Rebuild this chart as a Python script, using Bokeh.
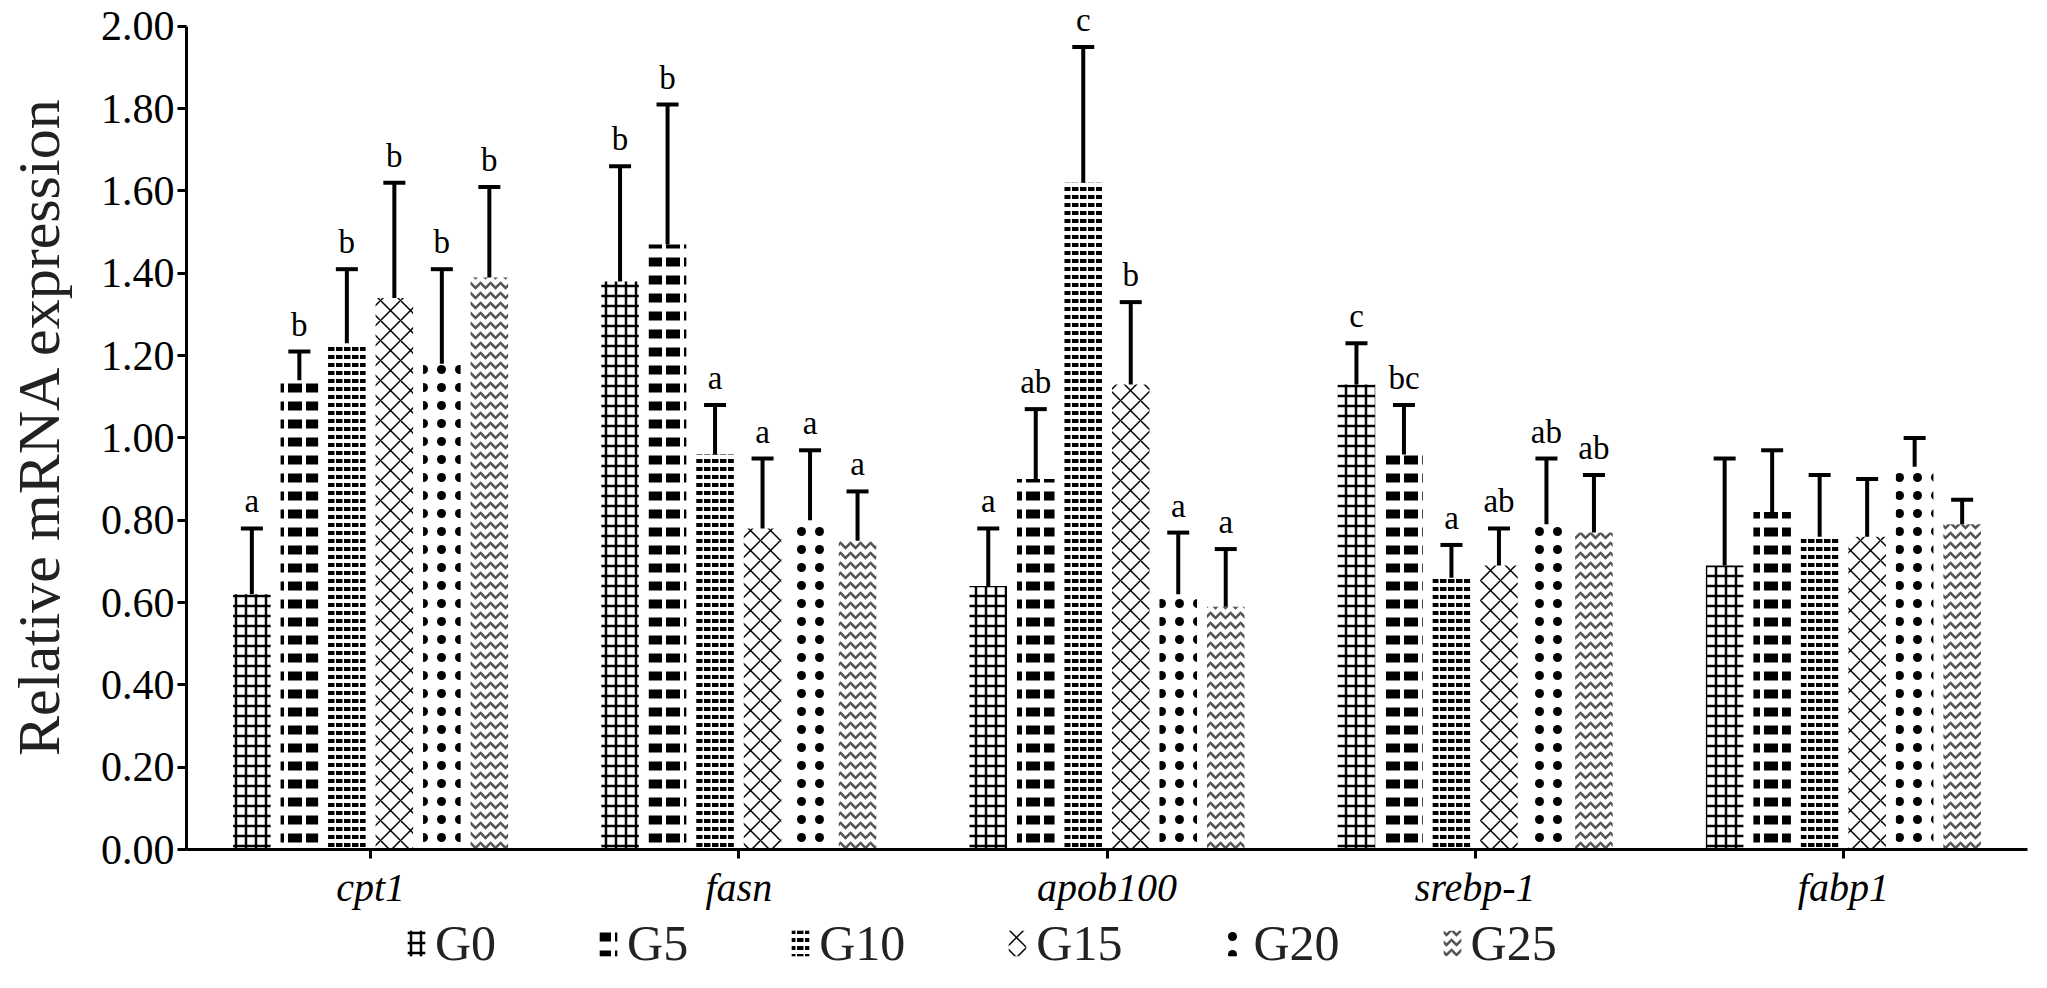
from bokeh.plotting import figure
from bokeh.layouts import column
from bokeh.models import (ColumnDataSource, FactorRange, Range1d, FixedTicker, PrintfTickFormatter,
                          Whisker, TeeHead, Legend, LegendItem)
from bokeh.transform import dodge
from bokeh.core.properties import value
from bokeh.embed import file_html
from bokeh.resources import INLINE

genes = ["cpt1", "fasn", "apob100", "srebp-1", "fabp1"]
groups = ["G0", "G5", "G10", "G15", "G20", "G25"]

G0 = [0.62, 1.38, 0.64, 1.13, 0.69]
G5 = [1.14, 1.47, 0.90, 0.96, 0.82]
G10 = [1.23, 0.96, 1.62, 0.66, 0.76]
G15 = [1.34, 0.78, 1.13, 0.69, 0.76]
G20 = [1.18, 0.80, 0.62, 0.79, 0.93]
G25 = [1.39, 0.75, 0.59, 0.77, 0.79]

G0_se = [0.16, 0.28, 0.14, 0.10, 0.26]
G5_se = [0.07, 0.34, 0.17, 0.12, 0.15]
G10_se = [0.18, 0.12, 0.33, 0.08, 0.15]
G15_se = [0.28, 0.17, 0.20, 0.09, 0.14]
G20_se = [0.23, 0.17, 0.15, 0.16, 0.07]
G25_se = [0.22, 0.12, 0.14, 0.14, 0.06]

G0_sig = ["a", "b", "a", "c", ""]
G5_sig = ["b", "b", "ab", "bc", ""]
G10_sig = ["b", "a", "c", "a", ""]
G15_sig = ["b", "a", "b", "ab", ""]
G20_sig = ["b", "a", "a", "ab", ""]
G25_sig = ["b", "a", "a", "ab", ""]

y_ticks = [0.0, 0.2, 0.4, 0.6, 0.8, 1.0, 1.2, 1.4, 1.6, 1.8, 2.0]

means = [G0, G5, G10, G15, G20, G25]
ses = [G0_se, G5_se, G10_se, G15_se, G20_se, G25_se]
sigs = [G0_sig, G5_sig, G10_sig, G15_sig, G20_sig, G25_sig]

data = {"gene": genes}
for g, m, s, l in zip(groups, means, ses, sigs):
    data[g] = m
    data[g + "_hi"] = [a + b for a, b in zip(m, s)]
    data[g + "_lo"] = [a - b for a, b in zip(m, s)]
    data[g + "_sig"] = l
source = ColumnDataSource(data)

SERIF = "Liberation Serif"

# frame spans 2.058 units so the axis (bounded at 2.00) sits just below the top,
# leaving room inside the frame for the letters over the tallest bars
p = figure(width=2031, height=912, x_range=FactorRange(*genes, range_padding=0.0),
           y_range=Range1d(0, 2.058), output_backend="svg", toolbar_location=None,
           min_border_left=186, min_border_right=4, min_border_top=2, min_border_bottom=61)
p.outline_line_color = None
p.grid.grid_line_color = None
p.background_fill_color = "white"

hatches = [
    dict(hatch_pattern="cross", hatch_scale=10, hatch_weight=2.5, hatch_color="black"),
    dict(hatch_pattern="horizontal_dash", hatch_scale=18, hatch_weight=9, hatch_color="black"),
    dict(hatch_pattern="horizontal_dash", hatch_scale=8, hatch_weight=4, hatch_color="black"),
    dict(hatch_pattern="diagonal_cross", hatch_scale=20, hatch_weight=1.5, hatch_color="black"),
    dict(hatch_pattern="dot", hatch_scale=18, hatch_weight=2, hatch_color="black"),
    dict(hatch_pattern="horizontal_wave", hatch_scale=10, hatch_weight=2.5, hatch_color="#555555"),
]

pitch = 0.129
bw = 0.102
for i, g in enumerate(groups):
    off = (i - 2.5) * pitch
    p.vbar(x=dodge("gene", off, range=p.x_range), top=g, width=bw, bottom=0, source=source,
           fill_color="white", line_color=None, **hatches[i])
    w = Whisker(base=dodge("gene", off, range=p.x_range), upper=g + "_hi", lower=g + "_lo",
                source=source, dimension="height", line_width=4, line_color="black",
                upper_head=TeeHead(size=22, line_width=4, line_color="black"),
                lower_head=TeeHead(size=22, line_width=4, line_color="black"))
    p.add_layout(w)
    p.text(x=dodge("gene", off, range=p.x_range), y=g + "_hi", text=g + "_sig", source=source,
           text_font=value(SERIF), text_font_size="33px", text_align="center",
           text_baseline="bottom", y_offset=-9, text_color="black")

# axes
p.yaxis.ticker = FixedTicker(ticks=y_ticks)
p.yaxis.bounds = (0, 2.0)
p.yaxis.formatter = PrintfTickFormatter(format="%.2f")
p.yaxis.axis_label = "Relative mRNA expression"
p.yaxis.axis_label_text_font = SERIF
p.yaxis.axis_label_text_font_style = "normal"
p.yaxis.axis_label_text_font_size = "60px"
p.yaxis.axis_label_text_color = "#222222"
p.yaxis.axis_label_standoff = 26
p.yaxis.major_label_text_font = SERIF
p.yaxis.major_label_text_font_size = "42px"
p.yaxis.major_label_text_color = "black"
p.yaxis.major_tick_out = 9
p.yaxis.major_tick_in = 0
p.yaxis.minor_tick_line_color = None
p.yaxis.axis_line_width = 3
p.yaxis.major_tick_line_width = 3
p.yaxis.major_label_standoff = 3

p.xaxis.major_label_text_font = SERIF
p.xaxis.major_label_text_font_style = "italic"
p.xaxis.major_label_text_font_size = "40px"
p.xaxis.major_label_text_color = "black"
p.xaxis.major_label_standoff = 6
p.xaxis.major_tick_out = 9
p.xaxis.major_tick_in = 0
p.xaxis.axis_line_width = 3
p.xaxis.major_tick_line_width = 3

# legend strip below the chart (proxy renderers share the data, hidden)
lg = figure(width=2031, height=60, x_range=FactorRange(*genes), y_range=Range1d(0, 2.0),
            output_backend="svg", toolbar_location=None,
            min_border_left=0, min_border_right=0, min_border_top=0, min_border_bottom=0)
lg.axis.visible = False
lg.grid.grid_line_color = None
lg.outline_line_color = None
items = []
for i, g in enumerate(groups):
    r = lg.vbar(x="gene", top=g, width=0.1, source=source, fill_color="white",
                line_color=None, **hatches[i])
    r.visible = False
    items.append(LegendItem(label=g, renderers=[r]))
legend = Legend(items=items, orientation="horizontal", location=(219, 0),
                label_text_font=SERIF, label_text_font_size="50px", label_text_color="#222222",
                glyph_width=22, glyph_height=32, spacing=101, label_standoff=8,
                border_line_color=None, background_fill_alpha=0.0, padding=0, margin=0)
lg.add_layout(legend, "center")

layout = column(p, lg, spacing=0)
open("out.html", "w").write(file_html(layout, INLINE))
